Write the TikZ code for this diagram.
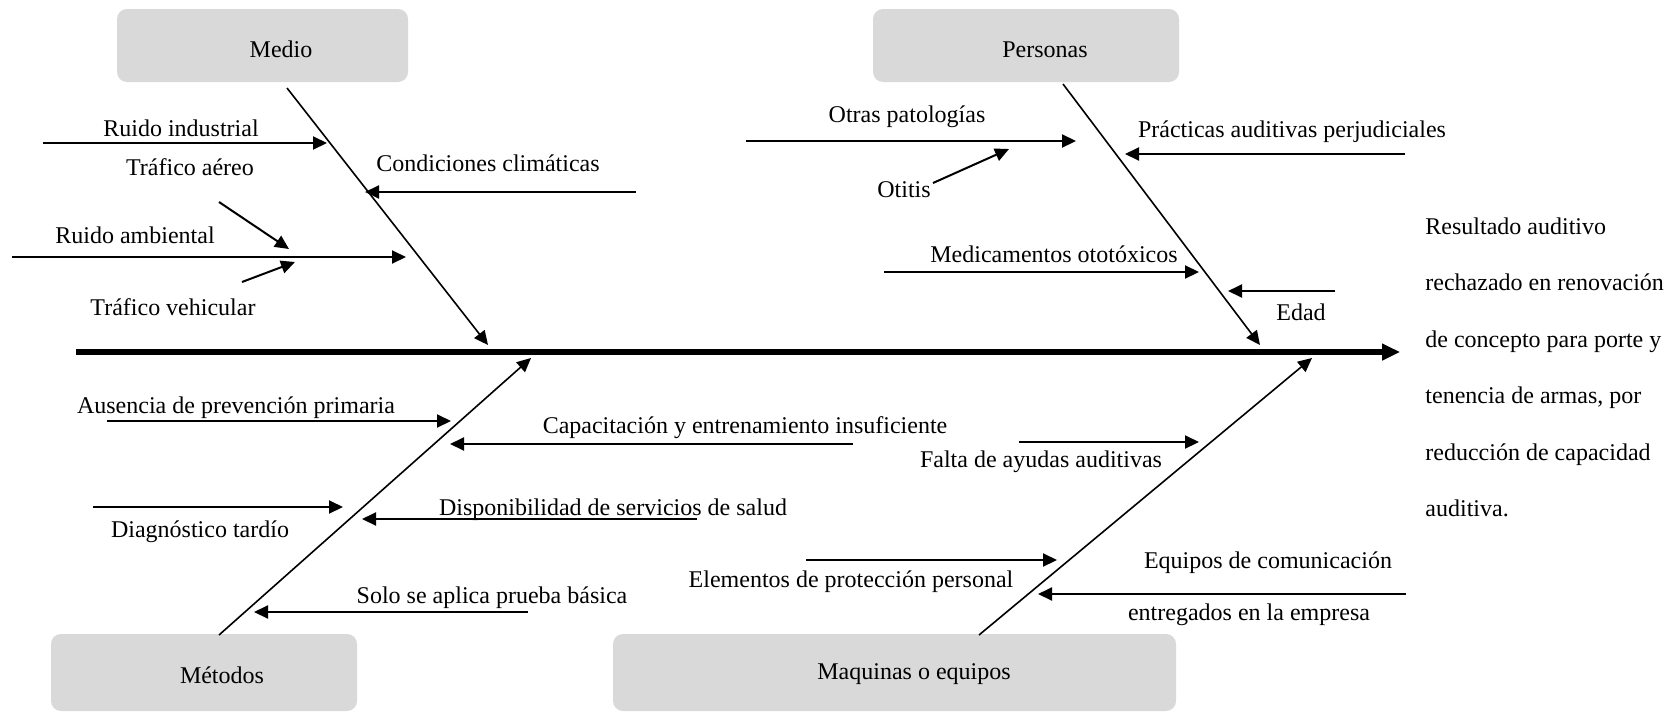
\documentclass[tikz,border=0pt]{standalone}
\usepackage{fontspec}
\setmainfont{Liberation Serif}
\usetikzlibrary{arrows.meta}
\definecolor{boxgray}{HTML}{D9D9D9}
\begin{document}
\begin{tikzpicture}[x=0.5pt,y=-0.5pt,
  catbox/.style={fill=boxgray, rounded corners=5pt, inner sep=0pt, outer sep=0pt},
  lbl/.style={anchor=base, inner sep=0pt, font=\fontsize{12}{14}\selectfont},
  rlbl/.style={anchor=base west, inner sep=0pt, font=\fontsize{12}{14}\selectfont},
  cause/.style={line width=1pt, -{Triangle[length=7pt,width=6.5pt]}},
  bone/.style={line width=0.8pt, -{Triangle[length=7pt,width=6.5pt]}},
  spine/.style={line width=3pt, -{Triangle[length=9pt,width=8pt]}}]
\useasboundingbox[fill=white] (0,0) rectangle (1679,712);

% category boxes
\node[catbox, minimum width=145.5pt, minimum height=36.5pt] (medio) at (262.5,45.5) {};
\node[catbox, minimum width=153pt, minimum height=36.5pt] (personas) at (1026,45.5) {};
\node[catbox, minimum width=153pt, minimum height=38.5pt] (metodos) at (204,672.5) {};
\node[catbox, minimum width=281.5pt, minimum height=38.5pt] (maquinas) at (894.5,672.5) {};
\node[lbl] (medioT) at (281,57) {Medio};
\node[lbl] (personasT) at (1045,57) {Personas};
\node[lbl] (metodosT) at (222,683) {Métodos};
\node[lbl] (maquinasT) at (914,679) {Maquinas o equipos};

% spine
\coordinate (s0) at (76,352);
\coordinate (s1) at (1400,352);
\draw[spine] (s0) -- (s1);

% bones
\coordinate (mB) at (287,88);   \coordinate (mE) at (488,345);
\coordinate (pB) at (1063,84);  \coordinate (pE) at (1260,345);
\coordinate (tB) at (219,635);  \coordinate (tE) at (531,358);
\coordinate (qB) at (979,635);  \coordinate (qE) at (1312,358);
\draw[bone] (mB) -- (mE);
\draw[bone] (pB) -- (pE);
\draw[bone] (tB) -- (tE);
\draw[bone] (qB) -- (qE);

% effect text
\node[rlbl] (r1) at (1425,234) {Resultado auditivo};
\node[rlbl] (r2) at (1425,290.5) {rechazado en renovación};
\node[rlbl] (r3) at (1425,347) {de concepto para porte y};
\node[rlbl] (r4) at (1425,403.5) {tenencia de armas, por};
\node[rlbl] (r5) at (1425,460) {reducción de capacidad};
\node[rlbl] (r6) at (1425,516.5) {auditiva.};

% Medio causes
\node[lbl] (l1) at (181,136) {Ruido industrial};
\node[lbl] (l2) at (190,175) {Tráfico aéreo};
\node[lbl] (l3) at (488,171) {Condiciones climáticas};
\node[lbl] (l4) at (135,243) {Ruido ambiental};
\node[lbl] (l5) at (173,315) {Tráfico vehicular};
\coordinate (a1s) at (43,143);  \coordinate (a1e) at (327,143);
\coordinate (a3s) at (636,192); \coordinate (a3e) at (365,192);
\coordinate (a2s) at (219,202); \coordinate (a2e) at (289,249);
\coordinate (a4s) at (12,257);  \coordinate (a4e) at (406,257);
\coordinate (a5s) at (242,282); \coordinate (a5e) at (295,262);
\draw[cause] (a1s) -- (a1e);
\draw[cause] (a3s) -- (a3e);
\draw[cause] (a2s) -- (a2e);
\draw[cause] (a4s) -- (a4e);
\draw[cause] (a5s) -- (a5e);

% Personas causes
\node[lbl] (p1) at (907,122) {Otras patologías};
\node[lbl] (p2) at (904,197) {Otitis};
\node[lbl] (p3) at (1292,137) {Prácticas auditivas perjudiciales};
\node[lbl] (p4) at (1054,262) {Medicamentos ototóxicos};
\node[lbl] (p5) at (1301,320) {Edad};
\coordinate (b1s) at (746,141);  \coordinate (b1e) at (1076,141);
\coordinate (b2s) at (933,183);  \coordinate (b2e) at (1009,149);
\coordinate (b3s) at (1405,154); \coordinate (b3e) at (1125,154);
\coordinate (b4s) at (884,272);  \coordinate (b4e) at (1199,272);
\coordinate (b5s) at (1335,291); \coordinate (b5e) at (1228,291);
\draw[cause] (b1s) -- (b1e);
\draw[cause] (b2s) -- (b2e);
\draw[cause] (b3s) -- (b3e);
\draw[cause] (b4s) -- (b4e);
\draw[cause] (b5s) -- (b5e);

% Metodos causes
\node[lbl] (t1) at (236,413) {Ausencia de prevención primaria};
\node[lbl] (t2) at (745,433) {Capacitación y entrenamiento insuficiente};
\node[lbl] (t3) at (200,537) {Diagnóstico tardío};
\node[lbl] (t4) at (613,515) {Disponibilidad de servicios de salud};
\node[lbl] (t5) at (492,603) {Solo se aplica prueba básica};
\coordinate (c1s) at (107,421); \coordinate (c1e) at (451,421);
\coordinate (c2s) at (853,444); \coordinate (c2e) at (450,444);
\coordinate (c3s) at (93,507);  \coordinate (c3e) at (343,507);
\coordinate (c4s) at (697,519); \coordinate (c4e) at (362,519);
\coordinate (c5s) at (528,612); \coordinate (c5e) at (254,612);
\draw[cause] (c1s) -- (c1e);
\draw[cause] (c2s) -- (c2e);
\draw[cause] (c3s) -- (c3e);
\draw[cause] (c4s) -- (c4e);
\draw[cause] (c5s) -- (c5e);

% Maquinas causes
\node[lbl] (q1) at (1041,467) {Falta de ayudas auditivas};
\node[lbl] (q2) at (851,587) {Elementos de protección personal};
\node[lbl] (q3) at (1268,568) {Equipos de comunicación};
\node[lbl] (q4) at (1249,620) {entregados en la empresa};
\coordinate (d1s) at (1019,442); \coordinate (d1e) at (1199,442);
\coordinate (d2s) at (806,560);  \coordinate (d2e) at (1057,560);
\coordinate (d3s) at (1406,594); \coordinate (d3e) at (1038,594);
\draw[cause] (d1s) -- (d1e);
\draw[cause] (d2s) -- (d2e);
\draw[cause] (d3s) -- (d3e);
\end{tikzpicture}
\end{document}
